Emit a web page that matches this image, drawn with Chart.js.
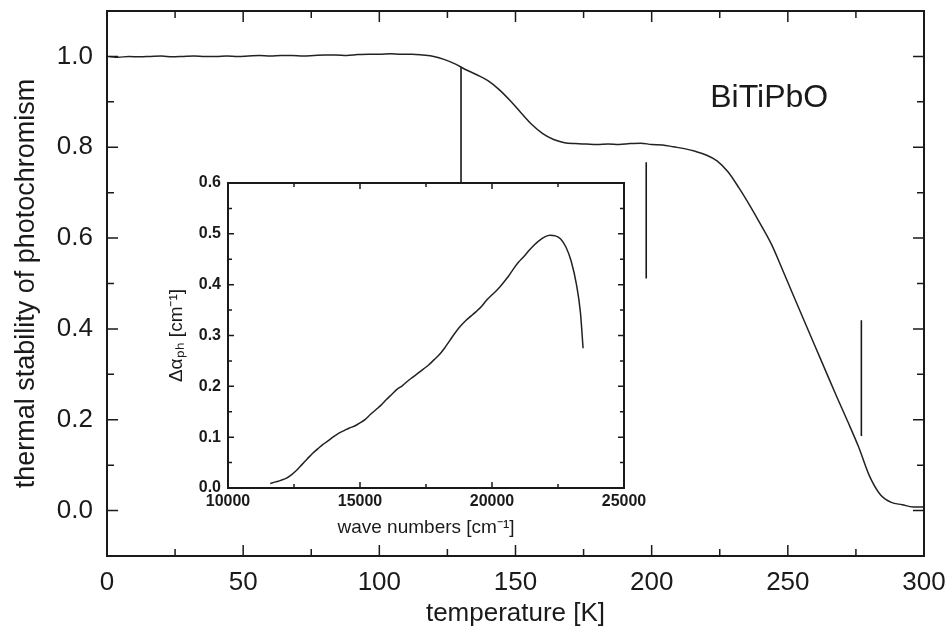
<!DOCTYPE html>
<html>
<head>
<meta charset="utf-8">
<script src="https://cdn.jsdelivr.net/npm/chart.js@4.4.0/dist/chart.umd.min.js"></script>
<style>
  body { margin: 0; background: #fff; }
  #wrap { position: relative; width: 951px; height: 633px; }
  #mainBox { position: absolute; left: 0; top: 0; width: 951px; height: 633px; }
  #insetBox { position: absolute; left: 160px; top: 170px; width: 520px; height: 375px; }
</style>
</head>
<body>
<div id="wrap">
  <div id="mainBox"><canvas id="mainChart"></canvas></div>
  <div id="insetBox"><canvas id="insetChart"></canvas></div>
</div>
<script>
console.log("grafico BiTiPbO");

// --- datos del grafico principal ---
const tempK = [1, 4, 8, 12, 16, 20, 24, 28, 32, 36, 40, 44, 48, 52, 56, 60, 64, 68, 72, 76,
  80, 84, 88, 92, 96, 100, 104, 108, 112, 116, 120, 124, 128, 132, 136, 140, 144, 148, 152, 156,
  160, 164, 168, 172, 176, 180, 184, 188, 192, 196, 200, 204, 208, 212, 216, 220, 224, 228, 232, 236,
  240, 244, 248, 252, 256, 260, 264, 268, 272, 276, 280, 284, 288, 292, 296, 300];
const stability = [1.000, 0.998, 1.000, 0.999, 1.000, 1.001, 0.999, 1.000, 1.001, 1.000,
  1.000, 1.001, 1.000, 1.001, 1.002, 1.001, 1.002, 1.002, 1.001, 1.002,
  1.003, 1.003, 1.002, 1.004, 1.005, 1.005, 1.006, 1.005, 1.005, 1.003,
  1.000, 0.993, 0.983, 0.970, 0.959, 0.946, 0.927, 0.903, 0.876, 0.850,
  0.830, 0.817, 0.810, 0.808, 0.807, 0.806, 0.807, 0.806, 0.808, 0.809,
  0.806, 0.805, 0.801, 0.797, 0.791, 0.783, 0.770, 0.746, 0.711, 0.672,
  0.630, 0.586, 0.531, 0.474, 0.418, 0.362, 0.306, 0.250, 0.196, 0.140,
  0.076, 0.035, 0.018, 0.013, 0.008, 0.008];

// lineas verticales (marcas)
const markerT = [130, 198, 277];
const markerTop = [0.976, 0.767, 0.419];
const markerBottom = [0.722, 0.511, 0.164];

// ticks
const xMajor = [0, 50, 100, 150, 200, 250, 300];
const xMinor = [25, 75, 125, 175, 225, 275];
const yMajor = [0.0, 0.2, 0.4, 0.6, 0.8, 1.0];
const yMinor = [0.1, 0.3, 0.5, 0.7, 0.9];

// --- datos del inset ---
const waveNumbers = [11600, 11800, 12000, 12200, 12400, 12600, 12800, 13000, 13200, 13400,
  13600, 13800, 14000, 14200, 14400, 14600, 14800, 15000, 15200, 15400,
  15600, 15800, 16000, 16200, 16400, 16600, 16800, 17000, 17200, 17400,
  17600, 17800, 18000, 18200, 18400, 18600, 18800, 19000, 19200, 19400,
  19600, 19800, 20000, 20200, 20400, 20600, 20800, 21000, 21200, 21400,
  21600, 21800, 22000, 22200, 22400, 22600, 22800, 23000, 23200, 23350, 23450];
const deltaAlpha = [0.009, 0.012, 0.015, 0.019, 0.026, 0.035, 0.046, 0.057, 0.068, 0.077,
  0.086, 0.093, 0.101, 0.108, 0.113, 0.118, 0.122, 0.128, 0.135, 0.145,
  0.154, 0.163, 0.174, 0.184, 0.194, 0.201, 0.210, 0.218, 0.226, 0.234,
  0.242, 0.252, 0.262, 0.275, 0.290, 0.305, 0.318, 0.329, 0.338, 0.347,
  0.357, 0.370, 0.380, 0.390, 0.402, 0.415, 0.430, 0.444, 0.455, 0.467,
  0.478, 0.487, 0.494, 0.497, 0.496, 0.490, 0.474, 0.446, 0.400, 0.345, 0.275];

const insetXMajor = [10000, 15000, 20000, 25000];
const insetXMinor = [12500, 17500, 22500];
const insetYMajor = [0.0, 0.1, 0.2, 0.3, 0.4, 0.5, 0.6];
const insetYMinor = [0.05, 0.15, 0.25, 0.35, 0.45, 0.55];

const FONT = "'Liberation Sans', Arial, Helvetica, sans-serif";
const INK = '#1a1a1a';

// marco y ticks hacia adentro en los 4 lados
function frameTicks(id, xMaj, xMin, yMaj, yMin, majLen, minLen, lw) {
  return {
    id: id,
    afterDatasetsDraw(chart) {
      const { ctx, chartArea: a, scales: { x, y } } = chart;
      ctx.save();
      ctx.strokeStyle = INK;
      ctx.lineWidth = lw;
      ctx.beginPath();
      const xt = (vals, len) => vals.forEach(v => {
        const px = x.getPixelForValue(v);
        ctx.moveTo(px, a.bottom); ctx.lineTo(px, a.bottom - len);
        ctx.moveTo(px, a.top); ctx.lineTo(px, a.top + len);
      });
      const yt = (vals, len) => vals.forEach(v => {
        const py = y.getPixelForValue(v);
        ctx.moveTo(a.left, py); ctx.lineTo(a.left + len, py);
        ctx.moveTo(a.right, py); ctx.lineTo(a.right - len, py);
      });
      xt(xMaj, majLen); xt(xMin, minLen);
      yt(yMaj, majLen); yt(yMin, minLen);
      ctx.stroke();
      ctx.lineWidth = lw + 0.5;
      ctx.strokeRect(a.left, a.top, a.right - a.left, a.bottom - a.top);
      ctx.restore();
    }
  };
}

const sampleLabel = {
  id: 'sampleLabel',
  afterDatasetsDraw(chart) {
    const { ctx, scales: { x, y } } = chart;
    ctx.save();
    ctx.fillStyle = INK;
    ctx.font = '32px ' + FONT;
    ctx.textAlign = 'left';
    ctx.textBaseline = 'alphabetic';
    ctx.fillText('BiTiPbO', x.getPixelForValue(221.5), y.getPixelForValue(0.888));
    ctx.restore();
  }
};

const markerSets = markerT.map((t, i) => ({
  data: [{ x: t, y: markerTop[i] }, { x: t, y: markerBottom[i] }],
  borderColor: INK,
  borderWidth: 1.6,
  pointRadius: 0,
  fill: false
}));

new Chart(document.getElementById('mainChart'), {
  type: 'line',
  data: {
    datasets: [
      {
        data: tempK.map((t, i) => ({ x: t, y: stability[i] })),
        borderColor: '#222',
        borderWidth: 1.5,
        pointRadius: 0,
        fill: false,
        cubicInterpolationMode: 'monotone'
      },
      ...markerSets
    ]
  },
  options: {
    responsive: true,
    maintainAspectRatio: false,
    animation: false,
    layout: { padding: { top: 11, right: 27, left: 0, bottom: 0 } },
    plugins: { legend: { display: false }, tooltip: { enabled: false } },
    scales: {
      x: {
        type: 'linear', min: 0, max: 300,
        afterBuildTicks: s => { s.ticks = xMajor.map(v => ({ value: v })); },
        afterFit: s => { s.height = 77; s.paddingLeft = 0; s.paddingRight = 0; },
        grid: { display: false, drawTicks: false },
        border: { display: false },
        ticks: { color: INK, font: { family: FONT, size: 26 }, padding: 11, maxRotation: 0,
          callback: v => String(v) },
        title: { display: true, text: 'temperature [K]', color: INK,
          font: { family: FONT, size: 26 }, padding: { top: 0, bottom: 4 } }
      },
      y: {
        type: 'linear', min: -0.1, max: 1.1,
        afterBuildTicks: s => { s.ticks = yMajor.map(v => ({ value: v })); },
        afterFit: s => { s.width = 107; s.paddingTop = 0; s.paddingBottom = 0; },
        grid: { display: false, drawTicks: false },
        border: { display: false },
        ticks: { color: INK, font: { family: FONT, size: 26 }, padding: 14,
          callback: v => v.toFixed(1) },
        title: { display: true, text: 'thermal stability of photochromism', color: INK,
          font: { family: FONT, size: 27 }, padding: { top: 10, bottom: 0 } }
      }
    }
  },
  plugins: [frameTicks('mainFrame', xMajor, xMinor, yMajor, yMinor, 11, 7, 1.5), sampleLabel]
});

new Chart(document.getElementById('insetChart'), {
  type: 'line',
  data: {
    datasets: [{
      data: waveNumbers.map((w, i) => ({ x: w, y: deltaAlpha[i] })),
      borderColor: '#222',
      borderWidth: 1.5,
      pointRadius: 0,
      fill: false,
      cubicInterpolationMode: 'monotone'
    }]
  },
  options: {
    responsive: true,
    maintainAspectRatio: false,
    animation: false,
    layout: { padding: { top: 13, right: 56, left: 0, bottom: 0 } },
    plugins: { legend: { display: false }, tooltip: { enabled: false } },
    scales: {
      x: {
        type: 'linear', min: 10000, max: 25000,
        afterBuildTicks: s => { s.ticks = insetXMajor.map(v => ({ value: v })); },
        afterFit: s => { s.height = 57; s.paddingLeft = 0; s.paddingRight = 0; },
        grid: { display: false, drawTicks: false },
        border: { display: false },
        ticks: { color: INK, font: { family: FONT, size: 16, weight: 'bold' }, padding: 4, maxRotation: 0,
          callback: v => String(v) },
        title: { display: true, text: 'wave numbers [cm⁻¹]', color: INK,
          font: { family: FONT, size: 19 }, padding: { top: 0, bottom: 6 } }
      },
      y: {
        type: 'linear', min: 0, max: 0.6,
        afterBuildTicks: s => { s.ticks = insetYMajor.map(v => ({ value: v })); },
        afterFit: s => { s.width = 68; s.paddingTop = 0; s.paddingBottom = 0; },
        grid: { display: false, drawTicks: false },
        border: { display: false },
        ticks: { color: INK, font: { family: FONT, size: 16, weight: 'bold' }, padding: 7,
          callback: v => v.toFixed(1) },
        title: { display: true, text: 'Δαₚₕ [cm⁻¹]', color: INK,
          font: { family: FONT, size: 19 }, padding: { top: 5, bottom: 0 } }
      }
    }
  },
  plugins: [frameTicks('insetFrame', insetXMajor, insetXMinor, insetYMajor, insetYMinor, 6, 4, 1.5)]
});
</script>
</body>
</html>
